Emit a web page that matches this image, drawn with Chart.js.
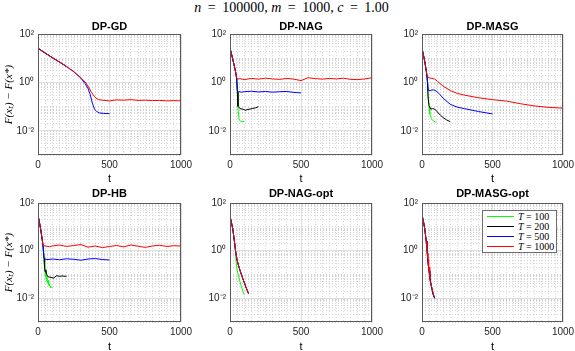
<!DOCTYPE html>
<html>
<head>
<meta charset="utf-8">
<script src="https://cdn.jsdelivr.net/npm/chart.js@4.4.1/dist/chart.umd.min.js"></script>
<style>
html,body{margin:0;padding:0;background:#fff;width:575px;height:351px;overflow:hidden;position:relative}
canvas{position:absolute}
#title{position:absolute;left:4px;top:0;width:575px;text-align:center;font-family:'Liberation Serif',serif;font-size:14px;line-height:16px;color:#000}
#title .eq{padding:0 3px}
#legend{position:absolute;left:482px;top:210px;width:75px;height:43px;border:1px solid #6e6e6e;background:#fff;box-sizing:border-box}
.row{position:absolute;left:0;height:10px;width:74px}
.ln{position:absolute;left:4px;top:4px;width:27px;height:0;border-top:1.5px solid #000}
.lt{position:absolute;left:35px;top:-1px;font-family:'Liberation Serif',serif;font-size:10px;line-height:12px;color:#000;white-space:nowrap}
</style>
</head>
<body>
<div id="title"><i>n</i> <span class="eq">=</span> 100000, <i>m</i> <span class="eq">=</span> 1000, <i>c</i> <span class="eq">=</span> 1.00</div>
<canvas id="c0" width="195" height="169" style="left:0px;top:18px"></canvas>
<canvas id="c1" width="194" height="169" style="left:192px;top:18px"></canvas>
<canvas id="c2" width="191" height="169" style="left:384px;top:18px"></canvas>
<canvas id="c3" width="195" height="169" style="left:0px;top:185px"></canvas>
<canvas id="c4" width="194" height="169" style="left:192px;top:185px"></canvas>
<canvas id="c5" width="191" height="169" style="left:384px;top:185px"></canvas>
<div id="legend"></div>
<script>
// ---------- labels ----------
const panelTitles = ['DP-GD', 'DP-NAG', 'DP-MASG', 'DP-HB', 'DP-NAG-opt', 'DP-MASG-opt'];
const seriesNames = ['T = 100', 'T = 200', 'T = 500', 'T = 1000'];
const seriesColors = ['rgb(0,255,0)', 'rgb(0,0,0)', 'rgb(0,0,255)', 'rgb(255,0,0)'];
const xTickLabels = [0, 500, 1000];
const yTickLabels = [[0.01, '10\u207B\u00B2'], [1, '10\u2070'], [100, '10\u00B2']];
const xAxisTitle = 't';
const yAxisTitle = 'F(x\u209C) \u2212 F(x*)';

// ---------- DP-GD ----------
const gdGreenT = [0, 50, 100];
const gdGreenV = [26.3, 16.6, 10.7];
const gdBlackT = [0, 50, 100, 150, 200];
const gdBlackV = [26.3, 16.6, 10.7, 7.08, 4.57];
const gdBlueT = [0, 50, 100, 150, 200, 250, 300, 330, 350, 365, 380, 395, 410, 430, 460, 500];
const gdBlueV = [26.3, 16.6, 10.7, 7.08, 4.57, 2.82, 1.51, 0.891, 0.562, 0.316, 0.141, 0.0794, 0.0631, 0.0550, 0.0525, 0.0513];
const gdRedT = [0, 50, 100, 150, 200, 250, 300, 330, 350, 375, 400, 425, 450, 500, 550, 600, 650, 700, 750, 800, 850, 900, 950, 1000];
const gdRedV = [26.3, 16.6, 10.7, 7.08, 4.57, 2.82, 1.58, 1.05, 0.708, 0.380, 0.240, 0.195, 0.186, 0.174, 0.191, 0.186, 0.195, 0.182, 0.186, 0.178, 0.182, 0.174, 0.178, 0.174];

// ---------- DP-NAG ----------
const nagGreenT = [0, 10, 20, 30, 40, 47, 52, 56, 60, 65, 75, 100];
const nagGreenV = [26.3, 15.8, 8.91, 5.01, 2.63, 1.41, 0.398, 0.100, 0.0447, 0.0282, 0.0251, 0.0240];
const nagBlackT = [0, 10, 20, 30, 40, 47, 52, 56, 70, 90, 110, 120, 140, 160, 180, 200];
const nagBlackV = [26.3, 15.8, 8.91, 5.01, 2.63, 1.41, 0.398, 0.105, 0.0832, 0.0794, 0.0708, 0.0759, 0.0794, 0.0851, 0.0891, 0.100];
const nagBlueT = [0, 10, 20, 30, 40, 47, 52, 60, 80, 100, 150, 200, 250, 300, 350, 400, 450, 500];
const nagBlueV = [26.3, 15.8, 8.91, 5.01, 2.63, 1.41, 0.468, 0.427, 0.398, 0.417, 0.437, 0.407, 0.427, 0.398, 0.417, 0.427, 0.389, 0.372];
const nagRedT = [0, 10, 20, 30, 40, 47, 55, 70, 100, 150, 200, 250, 300, 350, 400, 450, 500, 550, 600, 650, 700, 750, 800, 850, 900, 950, 1000];
const nagRedV = [26.3, 15.8, 8.91, 5.01, 2.63, 1.58, 1.38, 1.45, 1.32, 1.48, 1.38, 1.51, 1.41, 1.35, 1.48, 1.38, 1.20, 1.58, 1.45, 1.38, 1.48, 1.41, 1.51, 1.35, 1.32, 1.41, 1.58];

// ---------- DP-MASG ----------
const masgGreenT = [0, 10, 20, 30, 38, 43, 50, 55, 60, 66, 80, 100];
const masgGreenV = [26.3, 14.1, 7.08, 3.16, 1.26, 0.251, 0.100, 0.0501, 0.0447, 0.0316, 0.0263, 0.0224];
const masgBlackT = [0, 10, 20, 30, 38, 43, 50, 61, 75, 90, 110, 130, 150, 175, 200];
const masgBlackV = [26.3, 14.1, 7.08, 3.16, 1.26, 0.251, 0.112, 0.0794, 0.0832, 0.0794, 0.0603, 0.0447, 0.0355, 0.0282, 0.0240];
const masgBlueT = [0, 10, 20, 30, 38, 45, 60, 80, 100, 120, 150, 200, 250, 300, 400, 500];
const masgBlueV = [26.3, 14.1, 7.08, 3.16, 1.26, 0.468, 0.468, 0.501, 0.447, 0.355, 0.224, 0.126, 0.0955, 0.0832, 0.0631, 0.0501];
const masgRedT = [0, 10, 20, 30, 38, 50, 70, 90, 110, 150, 200, 250, 300, 400, 500, 600, 700, 800, 900, 1000];
const masgRedV = [26.3, 14.1, 7.08, 3.16, 1.78, 1.58, 1.48, 1.38, 1.12, 0.708, 0.468, 0.355, 0.302, 0.234, 0.195, 0.170, 0.132, 0.107, 0.0933, 0.0871];

// ---------- DP-HB ----------
const hbGreenT = [0, 10, 20, 30, 35, 42, 46, 48, 52, 55, 58, 62, 65, 70, 75, 80, 85, 90, 100];
const hbGreenV = [31.6, 15.8, 7.08, 2.82, 1.58, 0.501, 0.158, 0.251, 0.0794, 0.126, 0.0562, 0.0794, 0.0447, 0.0562, 0.0355, 0.0398, 0.0282, 0.0316, 0.0269];
const hbBlackT = [0, 10, 20, 30, 35, 42, 46, 50, 55, 60, 70, 90, 110, 130, 150, 170, 190, 200];
const hbBlackV = [31.6, 15.8, 7.08, 2.82, 1.58, 0.501, 0.200, 0.126, 0.158, 0.100, 0.0794, 0.0759, 0.0708, 0.0891, 0.0832, 0.0871, 0.0832, 0.0851];
const hbBlueT = [0, 10, 20, 30, 35, 42, 50, 70, 100, 150, 200, 250, 300, 350, 400, 450, 500];
const hbBlueV = [31.6, 15.8, 7.08, 2.82, 1.58, 0.501, 0.437, 0.427, 0.447, 0.417, 0.457, 0.437, 0.398, 0.447, 0.468, 0.427, 0.407];
const hbRedT = [0, 10, 20, 30, 35, 50, 80, 100, 150, 200, 250, 300, 350, 400, 450, 500, 550, 600, 650, 700, 750, 800, 850, 900, 950, 1000];
const hbRedV = [31.6, 15.8, 7.08, 2.82, 1.66, 1.58, 1.48, 1.58, 1.74, 1.51, 1.66, 1.82, 1.41, 1.58, 1.35, 1.51, 1.66, 1.45, 1.74, 1.55, 1.38, 1.58, 1.70, 1.51, 1.62, 1.58];

// ---------- DP-NAG-opt ----------
const nagoGreenT = [0, 10, 20, 30, 38, 45, 50, 60, 70, 80, 90, 100];
const nagoGreenV = [28.2, 15.8, 7.94, 2.82, 1.0, 0.251, 0.158, 0.0891, 0.0501, 0.0316, 0.0200, 0.0141];
const nagoT = [0, 10, 20, 30, 40, 50, 60, 70, 80, 90, 100, 110, 120, 130];
const nagoV = [28.2, 15.8, 7.94, 2.82, 0.891, 0.398, 0.240, 0.151, 0.100, 0.0676, 0.0468, 0.0316, 0.0224, 0.0158];

// ---------- DP-MASG-opt ----------
const masgoT = [0, 10, 20, 30, 35, 40, 45, 50, 55, 60, 70, 80, 90];
const masgoV = [31.6, 17.8, 7.94, 2.51, 1.26, 0.501, 0.251, 0.141, 0.0794, 0.0501, 0.0251, 0.0141, 0.0100];
const masgoRedT = [0, 10, 20, 30, 35, 40, 42, 44, 46, 48, 50, 55, 60, 70, 80, 88];
const masgoRedV = [31.6, 17.8, 7.94, 2.51, 1.26, 0.501, 0.794, 0.251, 0.447, 0.158, 0.200, 0.0794, 0.0501, 0.0282, 0.0158, 0.0112];

// ---------- drawing ----------
const yMajor = yTickLabels.map(p => p[0]);
function isYMajor(v) { return yMajor.some(m => Math.abs(Math.log10(v) - Math.log10(m)) < 1e-6); }
function isXMajor(v) { return xTickLabels.includes(v); }
const MAJOR_GRID = '#dedede', MINOR_GRID = '#d4d4d4', MINOR_DASH = [1, 2];

const frame = {
  id: 'frame',
  afterDraw(chart) {
    const { ctx, chartArea: a } = chart;
    const l = Math.round(a.left), t = Math.round(a.top), r = Math.round(a.right), b = Math.round(a.bottom);
    ctx.save();
    ctx.strokeStyle = '#5a5a5a';
    ctx.lineWidth = 1;
    ctx.strokeRect(l + 0.5, t + 0.5, r - l - 1, b - t - 1);
    ctx.restore();
  }
};

function panel(id, idx, row, showY, rightPad, sets) {
  const titlePadBottom = row === 0 ? 1 : 3;
  const xTitlePadBottom = row === 0 ? 1 : 0;
  return new Chart(document.getElementById(id), {
    type: 'line',
    data: {
      datasets: sets.map((s, i) => ({
        label: seriesNames[i],
        data: s[0].map((x, k) => ({ x: x, y: s[1][k] })),
        borderColor: seriesColors[i],
        backgroundColor: seriesColors[i],
        borderWidth: 1,
        pointRadius: 0,
        fill: false,
        tension: 0,
        order: 4 - i
      }))
    },
    options: {
      responsive: false,
      animation: false,
      devicePixelRatio: 1,
      events: [],
      layout: { padding: { left: 0, right: rightPad, top: 2, bottom: 0 } },
      plugins: {
        legend: { display: false },
        tooltip: { enabled: false },
        title: {
          display: true, text: panelTitles[idx], fullSize: false,
          font: { family: 'Liberation Sans', size: 11, weight: 'bold' }, color: '#000',
          padding: { top: 0, bottom: titlePadBottom }
        }
      },
      scales: {
        x: {
          type: 'linear', min: 0, max: 1000,
          afterBuildTicks: s => { const a = []; for (let v = 0; v <= 1000; v += 50) a.push({ value: v }); s.ticks = a; },
          afterFit: s => { s.height = 32; s.paddingLeft = 0; s.paddingRight = 0; },
          ticks: {
            autoSkip: false, maxRotation: 0, padding: 4, color: '#262626',
            font: { family: 'Liberation Sans', size: 10 },
            callback: v => isXMajor(v) ? String(v) : ''
          },
          grid: { drawTicks: false, lineWidth: 1, color: c => (c.tick && isXMajor(c.tick.value)) ? MAJOR_GRID : MINOR_GRID },
          border: { display: false, dash: c => (c.tick && !isXMajor(c.tick.value)) ? MINOR_DASH : [] },
          title: {
            display: true, text: xAxisTitle, color: '#000',
            font: { family: 'Liberation Sans', size: 11 },
            padding: { top: 0, bottom: xTitlePadBottom }
          }
        },
        y: {
          type: 'logarithmic', min: 1e-3, max: 100,
          afterBuildTicks: s => {
            const a = [];
            for (let e = -3; e <= 1; e++) for (let m = 1; m <= 9; m++) a.push({ value: Number((m * Math.pow(10, e)).toPrecision(6)) });
            a.push({ value: 100 });
            s.ticks = a;
          },
          afterFit: s => { s.width = 38; s.paddingTop = 0; s.paddingBottom = 0; },
          ticks: {
            autoSkip: false, padding: 4, color: '#262626',
            font: { family: 'Liberation Sans', size: 10 },
            callback: v => { const p = yTickLabels.find(q => Math.abs(Math.log10(q[0]) - Math.log10(v)) < 1e-6); return p ? p[1] : ''; }
          },
          grid: { drawTicks: false, lineWidth: 1, color: c => (c.tick && isYMajor(c.tick.value)) ? MAJOR_GRID : MINOR_GRID },
          border: { display: false, dash: c => (c.tick && !isYMajor(c.tick.value)) ? MINOR_DASH : [] },
          title: {
            display: showY, text: yAxisTitle, color: '#000',
            font: { family: 'Liberation Serif', size: 11, style: 'italic' },
            padding: { top: 3, bottom: 0 }
          }
        }
      }
    },
    plugins: [frame]
  });
}

panel('c0', 0, 0, true, 14, [[gdGreenT, gdGreenV], [gdBlackT, gdBlackV], [gdBlueT, gdBlueV], [gdRedT, gdRedV]]);
panel('c1', 1, 0, false, 14, [[nagGreenT, nagGreenV], [nagBlackT, nagBlackV], [nagBlueT, nagBlueV], [nagRedT, nagRedV]]);
panel('c2', 2, 0, false, 12, [[masgGreenT, masgGreenV], [masgBlackT, masgBlackV], [masgBlueT, masgBlueV], [masgRedT, masgRedV]]);
panel('c3', 3, 1, true, 14, [[hbGreenT, hbGreenV], [hbBlackT, hbBlackV], [hbBlueT, hbBlueV], [hbRedT, hbRedV]]);
panel('c4', 4, 1, false, 14, [[nagoGreenT, nagoGreenV], [nagoT, nagoV], [nagoT, nagoV], [nagoT, nagoV]]);
panel('c5', 5, 1, false, 12, [[masgoT, masgoV], [masgoT, masgoV], [masgoT, masgoV], [masgoRedT, masgoRedV]]);

// legend (HTML)
const leg = document.getElementById('legend');
seriesNames.forEach((name, i) => {
  const row = document.createElement('div');
  row.className = 'row';
  row.style.top = (1 + i * 10) + 'px';
  const ln = document.createElement('div');
  ln.className = 'ln';
  ln.style.borderTopColor = seriesColors[i];
  const lt = document.createElement('div');
  lt.className = 'lt';
  lt.innerHTML = '<i>T</i> = ' + name.split('= ')[1];
  row.appendChild(ln); row.appendChild(lt);
  leg.appendChild(row);
});
</script>
</body>
</html>
